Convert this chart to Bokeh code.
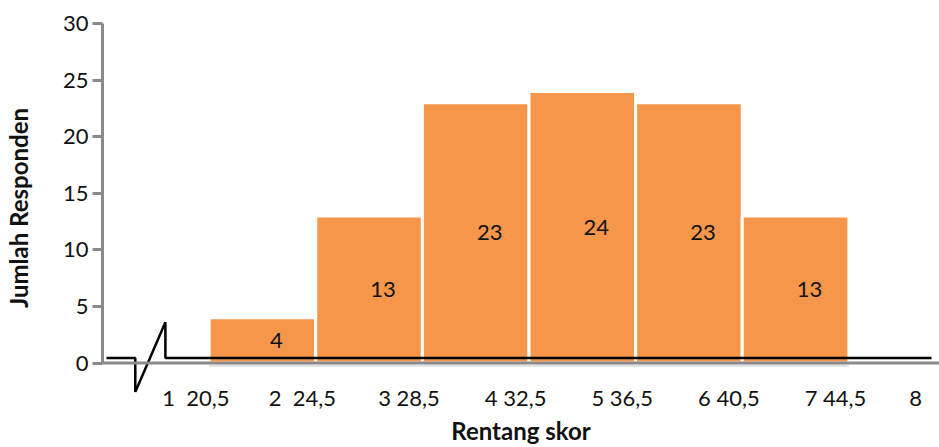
from bokeh.plotting import figure
from bokeh.models import Range1d, FixedTicker, Span, ColumnDataSource
from bokeh.core.properties import value
from bokeh.embed import file_html
from bokeh.resources import INLINE

# Score class boundaries and respondent counts per class
edges = [20.5, 24.5, 28.5, 32.5, 36.5, 40.5, 44.5]
counts = [4, 13, 23, 24, 23, 13]

# x tick labels: class number followed by its lower boundary
tick_labels = ["1\u00a0\u00a020,5", "2\u00a0\u00a024,5", "3 28,5", "4 32,5",
               "5 36,5", "6 40,5", "7 44,5", "8"]
y_ticks = [0, 5, 10, 15, 20, 25, 30]

# baseline with an axis-break zigzag near the origin
break_x = [16.65, 17.73, 17.73, 18.86, 18.86, 47.6]
break_y = [0.44, 0.44, -2.55, 3.6, 0.44, 0.44]

FONT = "Lato"
BAR = "#F5964A"
AXIS = "#8a8a8a"

src = ColumnDataSource(dict(
    left=edges[:-1],
    right=edges[1:],
    top=counts,
    mid=[(a + b) / 2 for a, b in zip(edges[:-1], edges[1:])],
    half=[c / 2 for c in counts],
    label=[str(c) for c in counts],
))

p = figure(width=939, height=447, output_backend="svg", toolbar_location=None,
           x_range=Range1d(16.5, 47.9), y_range=Range1d(-2.6, 30),
           min_border_left=99, min_border_right=0, min_border_top=23,
           min_border_bottom=53)
p.outline_line_color = None
p.background_fill_color = "white"
p.border_fill_color = "white"
p.xgrid.visible = False
p.ygrid.visible = False

# soft drop shadow behind the bars
p.quad(left="left", right="right", bottom=-0.35, top="top", source=src,
       fill_color="black", fill_alpha=0.10, line_color=None)

p.quad(left="left", right="right", bottom=0, top="top", source=src,
       fill_color=BAR, line_color="white", line_width=3)

p.add_layout(Span(location=0, dimension="width", line_color=AXIS, line_width=3))

p.line(break_x, break_y, line_color="black", line_width=2.5)

p.text(x="mid", y="half", text="label", source=src, x_offset=14,
       text_align="center", text_baseline="middle",
       text_font=value(FONT), text_font_size="22px", text_color="#111111")

# y axis
ya = p.yaxis[0]
ya.ticker = FixedTicker(ticks=y_ticks)
ya.bounds = (0, 30)
ya.axis_line_color = AXIS
ya.axis_line_width = 3
ya.major_tick_line_color = AXIS
ya.major_tick_line_width = 3
ya.major_tick_out = 10
ya.major_tick_in = 0
ya.minor_tick_line_color = None
ya.major_label_standoff = 4
ya.major_label_text_font = FONT
ya.major_label_text_font_size = "22px"
ya.major_label_text_color = "#111111"
ya.axis_label = "Jumlah Responden"
ya.axis_label_text_font = FONT
ya.axis_label_text_font_style = "bold"
ya.axis_label_text_font_size = "24px"
ya.axis_label_text_color = "#111111"
ya.axis_label_standoff = 27

# x axis: labels only, the gray zero line acts as the axis line
xa = p.xaxis[0]
x_ticks = [e - 0.5 for e in edges] + [edges[-1] + 2.5]
xa.ticker = FixedTicker(ticks=x_ticks)
xa.major_label_overrides = {t: s for t, s in zip(x_ticks, tick_labels)}
xa.axis_line_color = None
xa.major_tick_line_color = None
xa.minor_tick_line_color = None
xa.major_tick_out = 0
xa.major_tick_in = 0
xa.major_label_standoff = -9
xa.major_label_text_font = FONT
xa.major_label_text_font_size = "22px"
xa.major_label_text_color = "#111111"
xa.axis_label = "Rentang skor"
xa.axis_label_text_font = FONT
xa.axis_label_text_font_style = "bold"
xa.axis_label_text_font_size = "24px"
xa.axis_label_text_color = "#111111"
xa.axis_label_standoff = 2

open("out.html", "w").write(file_html(p, INLINE))
